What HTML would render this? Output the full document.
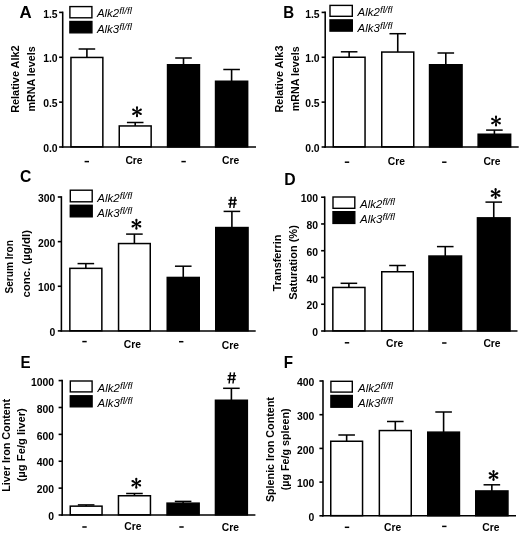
<!DOCTYPE html>
<html>
<head>
<meta charset="utf-8">
<title>Figure</title>
<style>
html, body { margin: 0; padding: 0; background: #fff; }
body { width: 520px; height: 533px; overflow: hidden; }
svg { display: block; font-family: "Liberation Sans", sans-serif; will-change: transform; }
svg text { font-family: "Liberation Sans", sans-serif; fill: #000; }
</style>
</head>
<body>
<svg width="520" height="533" viewBox="0 0 520 533">
<line x1="62.70" y1="11.60" x2="62.70" y2="147.75" stroke="#000" stroke-width="1.55"/>
<line x1="59.10" y1="12.40" x2="62.70" y2="12.40" stroke="#000" stroke-width="1.6"/>
<text x="57.60" y="17.60" font-size="10.4" font-weight="bold" font-style="normal" text-anchor="end" >1.5</text>
<line x1="59.10" y1="57.27" x2="62.70" y2="57.27" stroke="#000" stroke-width="1.6"/>
<text x="57.60" y="62.47" font-size="10.4" font-weight="bold" font-style="normal" text-anchor="end" >1.0</text>
<line x1="59.10" y1="102.13" x2="62.70" y2="102.13" stroke="#000" stroke-width="1.6"/>
<text x="57.60" y="107.33" font-size="10.4" font-weight="bold" font-style="normal" text-anchor="end" >0.5</text>
<line x1="59.10" y1="147.00" x2="62.70" y2="147.00" stroke="#000" stroke-width="1.6"/>
<text x="57.60" y="152.20" font-size="10.4" font-weight="bold" font-style="normal" text-anchor="end" >0.0</text>
<line x1="86.90" y1="49.00" x2="86.90" y2="57.70" stroke="#000" stroke-width="1.6"/>
<line x1="78.60" y1="49.00" x2="95.20" y2="49.00" stroke="#000" stroke-width="1.5"/>
<rect x="70.95" y="57.45" width="31.90" height="89.40" fill="#fff" stroke="#000" stroke-width="1.5"/>
<line x1="135.20" y1="122.50" x2="135.20" y2="126.20" stroke="#000" stroke-width="1.6"/>
<line x1="126.90" y1="122.50" x2="143.50" y2="122.50" stroke="#000" stroke-width="1.5"/>
<rect x="119.25" y="125.95" width="31.90" height="20.90" fill="#fff" stroke="#000" stroke-width="1.5"/>
<line x1="183.50" y1="58.00" x2="183.50" y2="65.00" stroke="#000" stroke-width="1.6"/>
<line x1="175.20" y1="58.00" x2="191.80" y2="58.00" stroke="#000" stroke-width="1.5"/>
<rect x="167.55" y="64.75" width="31.90" height="82.10" fill="#000" stroke="#000" stroke-width="1.5"/>
<line x1="231.60" y1="69.50" x2="231.60" y2="81.50" stroke="#000" stroke-width="1.6"/>
<line x1="223.30" y1="69.50" x2="239.90" y2="69.50" stroke="#000" stroke-width="1.5"/>
<rect x="215.55" y="81.25" width="32.10" height="65.60" fill="#000" stroke="#000" stroke-width="1.5"/>
<line x1="61.85" y1="147.00" x2="256.00" y2="147.00" stroke="#000" stroke-width="1.55"/>
<rect x="69.90" y="6.60" width="22.00" height="11.20" fill="#fff" stroke="#000" stroke-width="1.4"/>
<rect x="69.90" y="21.50" width="22.00" height="11.30" fill="#000" stroke="#000" stroke-width="1.4"/>
<text x="96.90" y="17.20" font-size="10.6" font-weight="normal" font-style="italic" text-anchor="start" textLength="22.30" lengthAdjust="spacingAndGlyphs" >Alk2</text>
<text x="119.30" y="14.10" font-size="8.2" font-weight="normal" font-style="italic" text-anchor="start" textLength="12.60" lengthAdjust="spacingAndGlyphs" >fl/fl</text>
<text x="96.90" y="33.00" font-size="10.6" font-weight="normal" font-style="italic" text-anchor="start" textLength="22.30" lengthAdjust="spacingAndGlyphs" >Alk3</text>
<text x="119.30" y="29.90" font-size="8.2" font-weight="normal" font-style="italic" text-anchor="start" textLength="12.60" lengthAdjust="spacingAndGlyphs" >fl/fl</text>
<line x1="84.60" y1="161.60" x2="89.00" y2="161.60" stroke="#000" stroke-width="1.5"/>
<text x="134.00" y="164.20" font-size="11.3" font-weight="bold" font-style="normal" text-anchor="middle" textLength="17.20" lengthAdjust="spacingAndGlyphs" >Cre</text>
<line x1="181.40" y1="161.60" x2="185.80" y2="161.60" stroke="#000" stroke-width="1.5"/>
<text x="230.60" y="164.20" font-size="11.3" font-weight="bold" font-style="normal" text-anchor="middle" textLength="17.20" lengthAdjust="spacingAndGlyphs" >Cre</text>
<polygon points="137.55,111.80 138.05,107.35 135.95,107.35 136.45,111.80" fill="#000"/>
<circle cx="137.00" cy="107.35" r="1.05" fill="#000"/>
<polygon points="137.28,111.32 133.67,108.67 132.62,110.48 136.72,112.28" fill="#000"/>
<circle cx="133.15" cy="109.58" r="1.05" fill="#000"/>
<polygon points="136.72,111.32 132.62,113.12 133.67,114.93 137.28,112.28" fill="#000"/>
<circle cx="133.15" cy="114.02" r="1.05" fill="#000"/>
<polygon points="136.45,111.80 135.95,116.25 138.05,116.25 137.55,111.80" fill="#000"/>
<circle cx="137.00" cy="116.25" r="1.05" fill="#000"/>
<polygon points="136.72,112.28 140.33,114.93 141.38,113.12 137.28,111.32" fill="#000"/>
<circle cx="140.85" cy="114.03" r="1.05" fill="#000"/>
<polygon points="137.28,112.28 141.38,110.48 140.33,108.67 136.72,111.32" fill="#000"/>
<circle cx="140.85" cy="109.58" r="1.05" fill="#000"/>
<circle cx="137.00" cy="111.80" r="1.0" fill="#000"/>
<text x="19.50" y="17.50" font-size="16.5" font-weight="bold" font-style="normal" text-anchor="start" textLength="12.20" lengthAdjust="spacingAndGlyphs" >A</text>
<text x="19.00" y="79.10" font-size="11.5" font-weight="bold" font-style="normal" text-anchor="middle" textLength="67.50" lengthAdjust="spacingAndGlyphs" transform="rotate(-90 19.00 79.10)" >Relative Alk2</text>
<text x="34.60" y="78.90" font-size="11.5" font-weight="bold" font-style="normal" text-anchor="middle" textLength="65.30" lengthAdjust="spacingAndGlyphs" transform="rotate(-90 34.60 78.90)" >mRNA levels</text>
<line x1="325.20" y1="11.60" x2="325.20" y2="147.75" stroke="#000" stroke-width="1.55"/>
<line x1="321.60" y1="12.40" x2="325.20" y2="12.40" stroke="#000" stroke-width="1.6"/>
<text x="319.60" y="17.60" font-size="10.4" font-weight="bold" font-style="normal" text-anchor="end" >1.5</text>
<line x1="321.60" y1="57.27" x2="325.20" y2="57.27" stroke="#000" stroke-width="1.6"/>
<text x="319.60" y="62.47" font-size="10.4" font-weight="bold" font-style="normal" text-anchor="end" >1.0</text>
<line x1="321.60" y1="102.13" x2="325.20" y2="102.13" stroke="#000" stroke-width="1.6"/>
<text x="319.60" y="107.33" font-size="10.4" font-weight="bold" font-style="normal" text-anchor="end" >0.5</text>
<line x1="321.60" y1="147.00" x2="325.20" y2="147.00" stroke="#000" stroke-width="1.6"/>
<text x="319.60" y="152.20" font-size="10.4" font-weight="bold" font-style="normal" text-anchor="end" >0.0</text>
<line x1="349.15" y1="51.80" x2="349.15" y2="57.50" stroke="#000" stroke-width="1.6"/>
<line x1="340.85" y1="51.80" x2="357.45" y2="51.80" stroke="#000" stroke-width="1.5"/>
<rect x="333.25" y="57.25" width="31.80" height="89.60" fill="#fff" stroke="#000" stroke-width="1.5"/>
<line x1="397.75" y1="33.70" x2="397.75" y2="52.30" stroke="#000" stroke-width="1.6"/>
<line x1="389.45" y1="33.70" x2="406.05" y2="33.70" stroke="#000" stroke-width="1.5"/>
<rect x="381.75" y="52.05" width="32.00" height="94.80" fill="#fff" stroke="#000" stroke-width="1.5"/>
<line x1="445.80" y1="53.00" x2="445.80" y2="65.00" stroke="#000" stroke-width="1.6"/>
<line x1="437.50" y1="53.00" x2="454.10" y2="53.00" stroke="#000" stroke-width="1.5"/>
<rect x="429.55" y="64.75" width="32.50" height="82.10" fill="#000" stroke="#000" stroke-width="1.5"/>
<line x1="494.40" y1="130.10" x2="494.40" y2="134.50" stroke="#000" stroke-width="1.6"/>
<line x1="486.10" y1="130.10" x2="502.70" y2="130.10" stroke="#000" stroke-width="1.5"/>
<rect x="478.15" y="134.25" width="32.50" height="12.60" fill="#000" stroke="#000" stroke-width="1.5"/>
<line x1="324.35" y1="147.00" x2="518.70" y2="147.00" stroke="#000" stroke-width="1.55"/>
<rect x="330.00" y="5.40" width="22.30" height="10.90" fill="#fff" stroke="#000" stroke-width="1.4"/>
<rect x="330.00" y="19.90" width="22.30" height="11.20" fill="#000" stroke="#000" stroke-width="1.4"/>
<text x="357.50" y="16.40" font-size="10.6" font-weight="normal" font-style="italic" text-anchor="start" textLength="22.30" lengthAdjust="spacingAndGlyphs" >Alk2</text>
<text x="379.90" y="13.30" font-size="8.2" font-weight="normal" font-style="italic" text-anchor="start" textLength="12.60" lengthAdjust="spacingAndGlyphs" >fl/fl</text>
<text x="357.50" y="31.60" font-size="10.6" font-weight="normal" font-style="italic" text-anchor="start" textLength="22.30" lengthAdjust="spacingAndGlyphs" >Alk3</text>
<text x="379.90" y="28.50" font-size="8.2" font-weight="normal" font-style="italic" text-anchor="start" textLength="12.60" lengthAdjust="spacingAndGlyphs" >fl/fl</text>
<line x1="344.80" y1="162.20" x2="349.20" y2="162.20" stroke="#000" stroke-width="1.5"/>
<text x="396.30" y="165.10" font-size="11.3" font-weight="bold" font-style="normal" text-anchor="middle" textLength="17.20" lengthAdjust="spacingAndGlyphs" >Cre</text>
<line x1="442.10" y1="162.20" x2="446.50" y2="162.20" stroke="#000" stroke-width="1.5"/>
<text x="492.00" y="165.10" font-size="11.3" font-weight="bold" font-style="normal" text-anchor="middle" textLength="17.20" lengthAdjust="spacingAndGlyphs" >Cre</text>
<polygon points="496.55,121.10 497.05,116.65 494.95,116.65 495.45,121.10" fill="#000"/>
<circle cx="496.00" cy="116.65" r="1.05" fill="#000"/>
<polygon points="496.27,120.62 492.67,117.97 491.62,119.78 495.73,121.58" fill="#000"/>
<circle cx="492.15" cy="118.88" r="1.05" fill="#000"/>
<polygon points="495.73,120.62 491.62,122.42 492.67,124.23 496.27,121.58" fill="#000"/>
<circle cx="492.15" cy="123.32" r="1.05" fill="#000"/>
<polygon points="495.45,121.10 494.95,125.55 497.05,125.55 496.55,121.10" fill="#000"/>
<circle cx="496.00" cy="125.55" r="1.05" fill="#000"/>
<polygon points="495.73,121.58 499.33,124.23 500.38,122.42 496.27,120.62" fill="#000"/>
<circle cx="499.85" cy="123.33" r="1.05" fill="#000"/>
<polygon points="496.27,121.58 500.38,119.78 499.33,117.97 495.73,120.62" fill="#000"/>
<circle cx="499.85" cy="118.88" r="1.05" fill="#000"/>
<circle cx="496.00" cy="121.10" r="1.0" fill="#000"/>
<text x="283.30" y="17.50" font-size="16.5" font-weight="bold" font-style="normal" text-anchor="start" textLength="10.90" lengthAdjust="spacingAndGlyphs" >B</text>
<text x="283.00" y="79.10" font-size="11.5" font-weight="bold" font-style="normal" text-anchor="middle" textLength="67.00" lengthAdjust="spacingAndGlyphs" transform="rotate(-90 283.00 79.10)" >Relative Alk3</text>
<text x="299.20" y="78.80" font-size="11.5" font-weight="bold" font-style="normal" text-anchor="middle" textLength="64.80" lengthAdjust="spacingAndGlyphs" transform="rotate(-90 299.20 78.80)" >mRNA levels</text>
<line x1="61.40" y1="196.20" x2="61.40" y2="331.65" stroke="#000" stroke-width="1.55"/>
<line x1="57.80" y1="197.00" x2="61.40" y2="197.00" stroke="#000" stroke-width="1.6"/>
<text x="55.40" y="202.20" font-size="10.4" font-weight="bold" font-style="normal" text-anchor="end" >300</text>
<line x1="57.80" y1="241.63" x2="61.40" y2="241.63" stroke="#000" stroke-width="1.6"/>
<text x="55.40" y="246.83" font-size="10.4" font-weight="bold" font-style="normal" text-anchor="end" >200</text>
<line x1="57.80" y1="286.27" x2="61.40" y2="286.27" stroke="#000" stroke-width="1.6"/>
<text x="55.40" y="291.47" font-size="10.4" font-weight="bold" font-style="normal" text-anchor="end" >100</text>
<line x1="57.80" y1="330.90" x2="61.40" y2="330.90" stroke="#000" stroke-width="1.6"/>
<text x="55.40" y="336.10" font-size="10.4" font-weight="bold" font-style="normal" text-anchor="end" >0</text>
<line x1="85.85" y1="263.60" x2="85.85" y2="268.60" stroke="#000" stroke-width="1.6"/>
<line x1="77.55" y1="263.60" x2="94.15" y2="263.60" stroke="#000" stroke-width="1.5"/>
<rect x="69.85" y="268.35" width="32.00" height="62.40" fill="#fff" stroke="#000" stroke-width="1.5"/>
<line x1="134.40" y1="234.10" x2="134.40" y2="243.80" stroke="#000" stroke-width="1.6"/>
<line x1="126.10" y1="234.10" x2="142.70" y2="234.10" stroke="#000" stroke-width="1.5"/>
<rect x="118.55" y="243.55" width="31.70" height="87.20" fill="#fff" stroke="#000" stroke-width="1.5"/>
<line x1="183.25" y1="266.20" x2="183.25" y2="277.70" stroke="#000" stroke-width="1.6"/>
<line x1="174.95" y1="266.20" x2="191.55" y2="266.20" stroke="#000" stroke-width="1.5"/>
<rect x="167.25" y="277.45" width="32.00" height="53.30" fill="#000" stroke="#000" stroke-width="1.5"/>
<line x1="231.90" y1="211.40" x2="231.90" y2="227.80" stroke="#000" stroke-width="1.6"/>
<line x1="223.60" y1="211.40" x2="240.20" y2="211.40" stroke="#000" stroke-width="1.5"/>
<rect x="215.75" y="227.55" width="32.30" height="103.20" fill="#000" stroke="#000" stroke-width="1.5"/>
<line x1="60.55" y1="330.90" x2="255.70" y2="330.90" stroke="#000" stroke-width="1.55"/>
<rect x="70.30" y="190.20" width="21.90" height="11.60" fill="#fff" stroke="#000" stroke-width="1.4"/>
<rect x="70.30" y="205.30" width="21.90" height="11.50" fill="#000" stroke="#000" stroke-width="1.4"/>
<text x="97.30" y="201.80" font-size="10.6" font-weight="normal" font-style="italic" text-anchor="start" textLength="22.30" lengthAdjust="spacingAndGlyphs" >Alk2</text>
<text x="119.70" y="198.70" font-size="8.2" font-weight="normal" font-style="italic" text-anchor="start" textLength="12.60" lengthAdjust="spacingAndGlyphs" >fl/fl</text>
<text x="97.30" y="216.90" font-size="10.6" font-weight="normal" font-style="italic" text-anchor="start" textLength="22.30" lengthAdjust="spacingAndGlyphs" >Alk3</text>
<text x="119.70" y="213.80" font-size="8.2" font-weight="normal" font-style="italic" text-anchor="start" textLength="12.60" lengthAdjust="spacingAndGlyphs" >fl/fl</text>
<line x1="82.30" y1="341.60" x2="86.70" y2="341.60" stroke="#000" stroke-width="1.5"/>
<text x="132.30" y="347.70" font-size="11.3" font-weight="bold" font-style="normal" text-anchor="middle" textLength="17.20" lengthAdjust="spacingAndGlyphs" >Cre</text>
<line x1="179.00" y1="341.70" x2="183.40" y2="341.70" stroke="#000" stroke-width="1.5"/>
<text x="230.40" y="349.10" font-size="11.3" font-weight="bold" font-style="normal" text-anchor="middle" textLength="17.20" lengthAdjust="spacingAndGlyphs" >Cre</text>
<polygon points="136.95,224.20 137.45,219.75 135.35,219.75 135.85,224.20" fill="#000"/>
<circle cx="136.40" cy="219.75" r="1.05" fill="#000"/>
<polygon points="136.68,223.72 133.07,221.07 132.02,222.88 136.12,224.68" fill="#000"/>
<circle cx="132.55" cy="221.97" r="1.05" fill="#000"/>
<polygon points="136.12,223.72 132.02,225.52 133.07,227.33 136.68,224.68" fill="#000"/>
<circle cx="132.55" cy="226.42" r="1.05" fill="#000"/>
<polygon points="135.85,224.20 135.35,228.65 137.45,228.65 136.95,224.20" fill="#000"/>
<circle cx="136.40" cy="228.65" r="1.05" fill="#000"/>
<polygon points="136.12,224.68 139.73,227.33 140.78,225.52 136.68,223.72" fill="#000"/>
<circle cx="140.25" cy="226.42" r="1.05" fill="#000"/>
<polygon points="136.68,224.68 140.78,222.88 139.73,221.07 136.12,223.72" fill="#000"/>
<circle cx="140.25" cy="221.97" r="1.05" fill="#000"/>
<circle cx="136.40" cy="224.20" r="1.0" fill="#000"/>
<line x1="231.30" y1="196.80" x2="229.90" y2="208.00" stroke="#000" stroke-width="1.45"/>
<line x1="235.20" y1="196.80" x2="233.80" y2="208.00" stroke="#000" stroke-width="1.45"/>
<line x1="228.60" y1="200.20" x2="236.90" y2="200.20" stroke="#000" stroke-width="1.45"/>
<line x1="228.10" y1="203.90" x2="236.40" y2="203.90" stroke="#000" stroke-width="1.45"/>
<text x="20.00" y="182.00" font-size="16.5" font-weight="bold" font-style="normal" text-anchor="start" textLength="11.30" lengthAdjust="spacingAndGlyphs" >C</text>
<text x="13.50" y="266.80" font-size="11.5" font-weight="bold" font-style="normal" text-anchor="middle" textLength="53.50" lengthAdjust="spacingAndGlyphs" transform="rotate(-90 13.50 266.80)" >Serum Iron</text>
<text x="29.60" y="263.80" font-size="11.5" font-weight="bold" font-style="normal" text-anchor="middle" textLength="67.50" lengthAdjust="spacingAndGlyphs" transform="rotate(-90 29.60 263.80)" >conc. (µg/dl)</text>
<line x1="324.70" y1="196.40" x2="324.70" y2="331.75" stroke="#000" stroke-width="1.55"/>
<line x1="321.10" y1="197.20" x2="324.70" y2="197.20" stroke="#000" stroke-width="1.6"/>
<text x="318.00" y="202.40" font-size="10.4" font-weight="bold" font-style="normal" text-anchor="end" >100</text>
<line x1="321.10" y1="223.96" x2="324.70" y2="223.96" stroke="#000" stroke-width="1.6"/>
<text x="318.00" y="229.16" font-size="10.4" font-weight="bold" font-style="normal" text-anchor="end" >80</text>
<line x1="321.10" y1="250.72" x2="324.70" y2="250.72" stroke="#000" stroke-width="1.6"/>
<text x="318.00" y="255.92" font-size="10.4" font-weight="bold" font-style="normal" text-anchor="end" >60</text>
<line x1="321.10" y1="277.48" x2="324.70" y2="277.48" stroke="#000" stroke-width="1.6"/>
<text x="318.00" y="282.68" font-size="10.4" font-weight="bold" font-style="normal" text-anchor="end" >40</text>
<line x1="321.10" y1="304.24" x2="324.70" y2="304.24" stroke="#000" stroke-width="1.6"/>
<text x="318.00" y="309.44" font-size="10.4" font-weight="bold" font-style="normal" text-anchor="end" >20</text>
<line x1="321.10" y1="331.00" x2="324.70" y2="331.00" stroke="#000" stroke-width="1.6"/>
<text x="318.00" y="336.20" font-size="10.4" font-weight="bold" font-style="normal" text-anchor="end" >0</text>
<line x1="348.90" y1="283.30" x2="348.90" y2="287.70" stroke="#000" stroke-width="1.6"/>
<line x1="340.60" y1="283.30" x2="357.20" y2="283.30" stroke="#000" stroke-width="1.5"/>
<rect x="332.85" y="287.45" width="32.10" height="43.40" fill="#fff" stroke="#000" stroke-width="1.5"/>
<line x1="397.50" y1="265.50" x2="397.50" y2="272.00" stroke="#000" stroke-width="1.6"/>
<line x1="389.20" y1="265.50" x2="405.80" y2="265.50" stroke="#000" stroke-width="1.5"/>
<rect x="381.75" y="271.75" width="31.50" height="59.10" fill="#fff" stroke="#000" stroke-width="1.5"/>
<line x1="445.25" y1="246.60" x2="445.25" y2="256.30" stroke="#000" stroke-width="1.6"/>
<line x1="436.95" y1="246.60" x2="453.55" y2="246.60" stroke="#000" stroke-width="1.5"/>
<rect x="428.95" y="256.05" width="32.60" height="74.80" fill="#000" stroke="#000" stroke-width="1.5"/>
<line x1="493.75" y1="202.10" x2="493.75" y2="218.10" stroke="#000" stroke-width="1.6"/>
<line x1="485.45" y1="202.10" x2="502.05" y2="202.10" stroke="#000" stroke-width="1.5"/>
<rect x="477.45" y="217.85" width="32.60" height="113.00" fill="#000" stroke="#000" stroke-width="1.5"/>
<line x1="323.85" y1="331.00" x2="517.50" y2="331.00" stroke="#000" stroke-width="1.55"/>
<rect x="333.00" y="197.00" width="21.80" height="11.30" fill="#fff" stroke="#000" stroke-width="1.4"/>
<rect x="333.00" y="211.70" width="21.80" height="11.70" fill="#000" stroke="#000" stroke-width="1.4"/>
<text x="360.00" y="207.70" font-size="10.6" font-weight="normal" font-style="italic" text-anchor="start" textLength="22.30" lengthAdjust="spacingAndGlyphs" >Alk2</text>
<text x="382.40" y="204.60" font-size="8.2" font-weight="normal" font-style="italic" text-anchor="start" textLength="12.60" lengthAdjust="spacingAndGlyphs" >fl/fl</text>
<text x="360.00" y="223.30" font-size="10.6" font-weight="normal" font-style="italic" text-anchor="start" textLength="22.30" lengthAdjust="spacingAndGlyphs" >Alk3</text>
<text x="382.40" y="220.20" font-size="8.2" font-weight="normal" font-style="italic" text-anchor="start" textLength="12.60" lengthAdjust="spacingAndGlyphs" >fl/fl</text>
<line x1="344.80" y1="342.80" x2="349.20" y2="342.80" stroke="#000" stroke-width="1.5"/>
<text x="394.60" y="347.30" font-size="11.3" font-weight="bold" font-style="normal" text-anchor="middle" textLength="17.20" lengthAdjust="spacingAndGlyphs" >Cre</text>
<line x1="442.10" y1="343.00" x2="446.50" y2="343.00" stroke="#000" stroke-width="1.5"/>
<text x="492.00" y="347.30" font-size="11.3" font-weight="bold" font-style="normal" text-anchor="middle" textLength="17.20" lengthAdjust="spacingAndGlyphs" >Cre</text>
<polygon points="496.15,193.50 496.65,189.05 494.55,189.05 495.05,193.50" fill="#000"/>
<circle cx="495.60" cy="189.05" r="1.05" fill="#000"/>
<polygon points="495.88,193.02 492.27,190.37 491.22,192.18 495.33,193.98" fill="#000"/>
<circle cx="491.75" cy="191.28" r="1.05" fill="#000"/>
<polygon points="495.33,193.02 491.22,194.82 492.27,196.63 495.88,193.98" fill="#000"/>
<circle cx="491.75" cy="195.72" r="1.05" fill="#000"/>
<polygon points="495.05,193.50 494.55,197.95 496.65,197.95 496.15,193.50" fill="#000"/>
<circle cx="495.60" cy="197.95" r="1.05" fill="#000"/>
<polygon points="495.33,193.98 498.93,196.63 499.98,194.82 495.88,193.02" fill="#000"/>
<circle cx="499.45" cy="195.72" r="1.05" fill="#000"/>
<polygon points="495.88,193.98 499.98,192.18 498.93,190.37 495.33,193.02" fill="#000"/>
<circle cx="499.45" cy="191.28" r="1.05" fill="#000"/>
<circle cx="495.60" cy="193.50" r="1.0" fill="#000"/>
<text x="284.30" y="185.00" font-size="16.5" font-weight="bold" font-style="normal" text-anchor="start" textLength="11.40" lengthAdjust="spacingAndGlyphs" >D</text>
<text x="281.50" y="262.90" font-size="11.5" font-weight="bold" font-style="normal" text-anchor="middle" textLength="56.80" lengthAdjust="spacingAndGlyphs" transform="rotate(-90 281.50 262.90)" >Transferrin</text>
<text x="296.80" y="262.50" font-size="11.5" font-weight="bold" font-style="normal" text-anchor="middle" textLength="74.60" lengthAdjust="spacingAndGlyphs" transform="rotate(-90 296.80 262.50)" >Saturation (%)</text>
<line x1="62.20" y1="379.80" x2="62.20" y2="515.75" stroke="#000" stroke-width="1.55"/>
<line x1="58.60" y1="380.60" x2="62.20" y2="380.60" stroke="#000" stroke-width="1.6"/>
<text x="54.00" y="385.80" font-size="10.4" font-weight="bold" font-style="normal" text-anchor="end" >1000</text>
<line x1="58.60" y1="407.48" x2="62.20" y2="407.48" stroke="#000" stroke-width="1.6"/>
<text x="54.00" y="412.68" font-size="10.4" font-weight="bold" font-style="normal" text-anchor="end" >800</text>
<line x1="58.60" y1="434.36" x2="62.20" y2="434.36" stroke="#000" stroke-width="1.6"/>
<text x="54.00" y="439.56" font-size="10.4" font-weight="bold" font-style="normal" text-anchor="end" >600</text>
<line x1="58.60" y1="461.24" x2="62.20" y2="461.24" stroke="#000" stroke-width="1.6"/>
<text x="54.00" y="466.44" font-size="10.4" font-weight="bold" font-style="normal" text-anchor="end" >400</text>
<line x1="58.60" y1="488.12" x2="62.20" y2="488.12" stroke="#000" stroke-width="1.6"/>
<text x="54.00" y="493.32" font-size="10.4" font-weight="bold" font-style="normal" text-anchor="end" >200</text>
<line x1="58.60" y1="515.00" x2="62.20" y2="515.00" stroke="#000" stroke-width="1.6"/>
<text x="54.00" y="520.20" font-size="10.4" font-weight="bold" font-style="normal" text-anchor="end" >0</text>
<line x1="86.15" y1="504.90" x2="86.15" y2="506.40" stroke="#000" stroke-width="1.6"/>
<line x1="77.85" y1="504.90" x2="94.45" y2="504.90" stroke="#000" stroke-width="1.5"/>
<rect x="70.25" y="506.15" width="31.80" height="8.70" fill="#fff" stroke="#000" stroke-width="1.5"/>
<line x1="134.45" y1="493.50" x2="134.45" y2="496.00" stroke="#000" stroke-width="1.6"/>
<line x1="126.15" y1="493.50" x2="142.75" y2="493.50" stroke="#000" stroke-width="1.5"/>
<rect x="118.45" y="495.75" width="32.00" height="19.10" fill="#fff" stroke="#000" stroke-width="1.5"/>
<line x1="183.10" y1="501.40" x2="183.10" y2="503.40" stroke="#000" stroke-width="1.6"/>
<line x1="174.80" y1="501.40" x2="191.40" y2="501.40" stroke="#000" stroke-width="1.5"/>
<rect x="167.05" y="503.15" width="32.10" height="11.70" fill="#000" stroke="#000" stroke-width="1.5"/>
<line x1="231.40" y1="388.30" x2="231.40" y2="400.50" stroke="#000" stroke-width="1.6"/>
<line x1="223.10" y1="388.30" x2="239.70" y2="388.30" stroke="#000" stroke-width="1.5"/>
<rect x="215.45" y="400.25" width="31.90" height="114.60" fill="#000" stroke="#000" stroke-width="1.5"/>
<line x1="61.35" y1="515.00" x2="255.40" y2="515.00" stroke="#000" stroke-width="1.55"/>
<rect x="70.30" y="381.00" width="21.80" height="10.90" fill="#fff" stroke="#000" stroke-width="1.4"/>
<rect x="70.30" y="395.80" width="21.80" height="11.00" fill="#000" stroke="#000" stroke-width="1.4"/>
<text x="97.50" y="392.10" font-size="10.6" font-weight="normal" font-style="italic" text-anchor="start" textLength="22.30" lengthAdjust="spacingAndGlyphs" >Alk2</text>
<text x="119.90" y="389.00" font-size="8.2" font-weight="normal" font-style="italic" text-anchor="start" textLength="12.60" lengthAdjust="spacingAndGlyphs" >fl/fl</text>
<text x="97.50" y="407.00" font-size="10.6" font-weight="normal" font-style="italic" text-anchor="start" textLength="22.30" lengthAdjust="spacingAndGlyphs" >Alk3</text>
<text x="119.90" y="403.90" font-size="8.2" font-weight="normal" font-style="italic" text-anchor="start" textLength="12.60" lengthAdjust="spacingAndGlyphs" >fl/fl</text>
<line x1="82.30" y1="527.00" x2="86.70" y2="527.00" stroke="#000" stroke-width="1.5"/>
<text x="132.90" y="530.10" font-size="11.3" font-weight="bold" font-style="normal" text-anchor="middle" textLength="17.20" lengthAdjust="spacingAndGlyphs" >Cre</text>
<line x1="179.30" y1="527.00" x2="183.70" y2="527.00" stroke="#000" stroke-width="1.5"/>
<text x="230.40" y="530.90" font-size="11.3" font-weight="bold" font-style="normal" text-anchor="middle" textLength="17.20" lengthAdjust="spacingAndGlyphs" >Cre</text>
<polygon points="136.85,483.20 137.35,478.75 135.25,478.75 135.75,483.20" fill="#000"/>
<circle cx="136.30" cy="478.75" r="1.05" fill="#000"/>
<polygon points="136.58,482.72 132.97,480.07 131.92,481.88 136.03,483.68" fill="#000"/>
<circle cx="132.45" cy="480.97" r="1.05" fill="#000"/>
<polygon points="136.03,482.72 131.92,484.52 132.97,486.33 136.58,483.68" fill="#000"/>
<circle cx="132.45" cy="485.43" r="1.05" fill="#000"/>
<polygon points="135.75,483.20 135.25,487.65 137.35,487.65 136.85,483.20" fill="#000"/>
<circle cx="136.30" cy="487.65" r="1.05" fill="#000"/>
<polygon points="136.03,483.68 139.63,486.33 140.68,484.52 136.58,482.72" fill="#000"/>
<circle cx="140.15" cy="485.43" r="1.05" fill="#000"/>
<polygon points="136.58,483.68 140.68,481.88 139.63,480.07 136.03,482.72" fill="#000"/>
<circle cx="140.15" cy="480.97" r="1.05" fill="#000"/>
<circle cx="136.30" cy="483.20" r="1.0" fill="#000"/>
<line x1="230.50" y1="372.30" x2="229.10" y2="383.50" stroke="#000" stroke-width="1.45"/>
<line x1="234.40" y1="372.30" x2="233.00" y2="383.50" stroke="#000" stroke-width="1.45"/>
<line x1="227.80" y1="375.70" x2="236.10" y2="375.70" stroke="#000" stroke-width="1.45"/>
<line x1="227.30" y1="379.40" x2="235.60" y2="379.40" stroke="#000" stroke-width="1.45"/>
<text x="20.40" y="368.00" font-size="16.5" font-weight="bold" font-style="normal" text-anchor="start" textLength="10.10" lengthAdjust="spacingAndGlyphs" >E</text>
<text x="10.30" y="445.40" font-size="11.5" font-weight="bold" font-style="normal" text-anchor="middle" textLength="92.80" lengthAdjust="spacingAndGlyphs" transform="rotate(-90 10.30 445.40)" >Liver Iron Content</text>
<text x="24.60" y="444.80" font-size="11.5" font-weight="bold" font-style="normal" text-anchor="middle" textLength="73.20" lengthAdjust="spacingAndGlyphs" transform="rotate(-90 24.60 444.80)" >(µg Fe/g liver)</text>
<line x1="323.00" y1="380.20" x2="323.00" y2="516.55" stroke="#000" stroke-width="1.55"/>
<line x1="319.40" y1="381.00" x2="323.00" y2="381.00" stroke="#000" stroke-width="1.6"/>
<text x="314.40" y="386.20" font-size="10.4" font-weight="bold" font-style="normal" text-anchor="end" >400</text>
<line x1="319.40" y1="414.70" x2="323.00" y2="414.70" stroke="#000" stroke-width="1.6"/>
<text x="314.40" y="419.90" font-size="10.4" font-weight="bold" font-style="normal" text-anchor="end" >300</text>
<line x1="319.40" y1="448.40" x2="323.00" y2="448.40" stroke="#000" stroke-width="1.6"/>
<text x="314.40" y="453.60" font-size="10.4" font-weight="bold" font-style="normal" text-anchor="end" >200</text>
<line x1="319.40" y1="482.10" x2="323.00" y2="482.10" stroke="#000" stroke-width="1.6"/>
<text x="314.40" y="487.30" font-size="10.4" font-weight="bold" font-style="normal" text-anchor="end" >100</text>
<line x1="319.40" y1="515.80" x2="323.00" y2="515.80" stroke="#000" stroke-width="1.6"/>
<text x="314.40" y="521.00" font-size="10.4" font-weight="bold" font-style="normal" text-anchor="end" >0</text>
<line x1="346.65" y1="435.00" x2="346.65" y2="441.50" stroke="#000" stroke-width="1.6"/>
<line x1="338.35" y1="435.00" x2="354.95" y2="435.00" stroke="#000" stroke-width="1.5"/>
<rect x="330.75" y="441.25" width="31.80" height="74.40" fill="#fff" stroke="#000" stroke-width="1.5"/>
<line x1="395.30" y1="421.50" x2="395.30" y2="430.80" stroke="#000" stroke-width="1.6"/>
<line x1="387.00" y1="421.50" x2="403.60" y2="421.50" stroke="#000" stroke-width="1.5"/>
<rect x="379.35" y="430.55" width="31.90" height="85.10" fill="#fff" stroke="#000" stroke-width="1.5"/>
<line x1="443.60" y1="412.00" x2="443.60" y2="432.40" stroke="#000" stroke-width="1.6"/>
<line x1="435.30" y1="412.00" x2="451.90" y2="412.00" stroke="#000" stroke-width="1.5"/>
<rect x="427.75" y="432.15" width="31.70" height="83.50" fill="#000" stroke="#000" stroke-width="1.5"/>
<line x1="491.85" y1="484.80" x2="491.85" y2="491.20" stroke="#000" stroke-width="1.6"/>
<line x1="483.55" y1="484.80" x2="500.15" y2="484.80" stroke="#000" stroke-width="1.5"/>
<rect x="475.75" y="490.95" width="32.20" height="24.70" fill="#000" stroke="#000" stroke-width="1.5"/>
<line x1="322.15" y1="515.80" x2="516.00" y2="515.80" stroke="#000" stroke-width="1.55"/>
<rect x="330.90" y="381.30" width="21.40" height="10.80" fill="#fff" stroke="#000" stroke-width="1.4"/>
<rect x="330.90" y="395.50" width="21.40" height="11.70" fill="#000" stroke="#000" stroke-width="1.4"/>
<text x="358.00" y="391.90" font-size="10.6" font-weight="normal" font-style="italic" text-anchor="start" textLength="22.30" lengthAdjust="spacingAndGlyphs" >Alk2</text>
<text x="380.40" y="388.80" font-size="8.2" font-weight="normal" font-style="italic" text-anchor="start" textLength="12.60" lengthAdjust="spacingAndGlyphs" >fl/fl</text>
<text x="358.00" y="406.70" font-size="10.6" font-weight="normal" font-style="italic" text-anchor="start" textLength="22.30" lengthAdjust="spacingAndGlyphs" >Alk3</text>
<text x="380.40" y="403.60" font-size="8.2" font-weight="normal" font-style="italic" text-anchor="start" textLength="12.60" lengthAdjust="spacingAndGlyphs" >fl/fl</text>
<line x1="344.80" y1="527.30" x2="349.20" y2="527.30" stroke="#000" stroke-width="1.5"/>
<text x="392.60" y="531.10" font-size="11.3" font-weight="bold" font-style="normal" text-anchor="middle" textLength="17.20" lengthAdjust="spacingAndGlyphs" >Cre</text>
<line x1="442.10" y1="526.40" x2="446.50" y2="526.40" stroke="#000" stroke-width="1.5"/>
<text x="490.80" y="531.10" font-size="11.3" font-weight="bold" font-style="normal" text-anchor="middle" textLength="17.20" lengthAdjust="spacingAndGlyphs" >Cre</text>
<polygon points="494.05,475.50 494.55,471.05 492.45,471.05 492.95,475.50" fill="#000"/>
<circle cx="493.50" cy="471.05" r="1.05" fill="#000"/>
<polygon points="493.77,475.02 490.17,472.37 489.12,474.18 493.23,475.98" fill="#000"/>
<circle cx="489.65" cy="473.27" r="1.05" fill="#000"/>
<polygon points="493.23,475.02 489.12,476.82 490.17,478.63 493.77,475.98" fill="#000"/>
<circle cx="489.65" cy="477.73" r="1.05" fill="#000"/>
<polygon points="492.95,475.50 492.45,479.95 494.55,479.95 494.05,475.50" fill="#000"/>
<circle cx="493.50" cy="479.95" r="1.05" fill="#000"/>
<polygon points="493.23,475.98 496.83,478.63 497.88,476.82 493.77,475.02" fill="#000"/>
<circle cx="497.35" cy="477.73" r="1.05" fill="#000"/>
<polygon points="493.77,475.98 497.88,474.18 496.83,472.37 493.23,475.02" fill="#000"/>
<circle cx="497.35" cy="473.27" r="1.05" fill="#000"/>
<circle cx="493.50" cy="475.50" r="1.0" fill="#000"/>
<text x="283.80" y="368.00" font-size="16.5" font-weight="bold" font-style="normal" text-anchor="start" textLength="9.30" lengthAdjust="spacingAndGlyphs" >F</text>
<text x="274.40" y="449.60" font-size="11.5" font-weight="bold" font-style="normal" text-anchor="middle" textLength="105.00" lengthAdjust="spacingAndGlyphs" transform="rotate(-90 274.40 449.60)" >Splenic Iron Content</text>
<text x="289.00" y="449.30" font-size="11.5" font-weight="bold" font-style="normal" text-anchor="middle" textLength="82.00" lengthAdjust="spacingAndGlyphs" transform="rotate(-90 289.00 449.30)" >(µg Fe/g spleen)</text>
</svg>
</body>
</html>
